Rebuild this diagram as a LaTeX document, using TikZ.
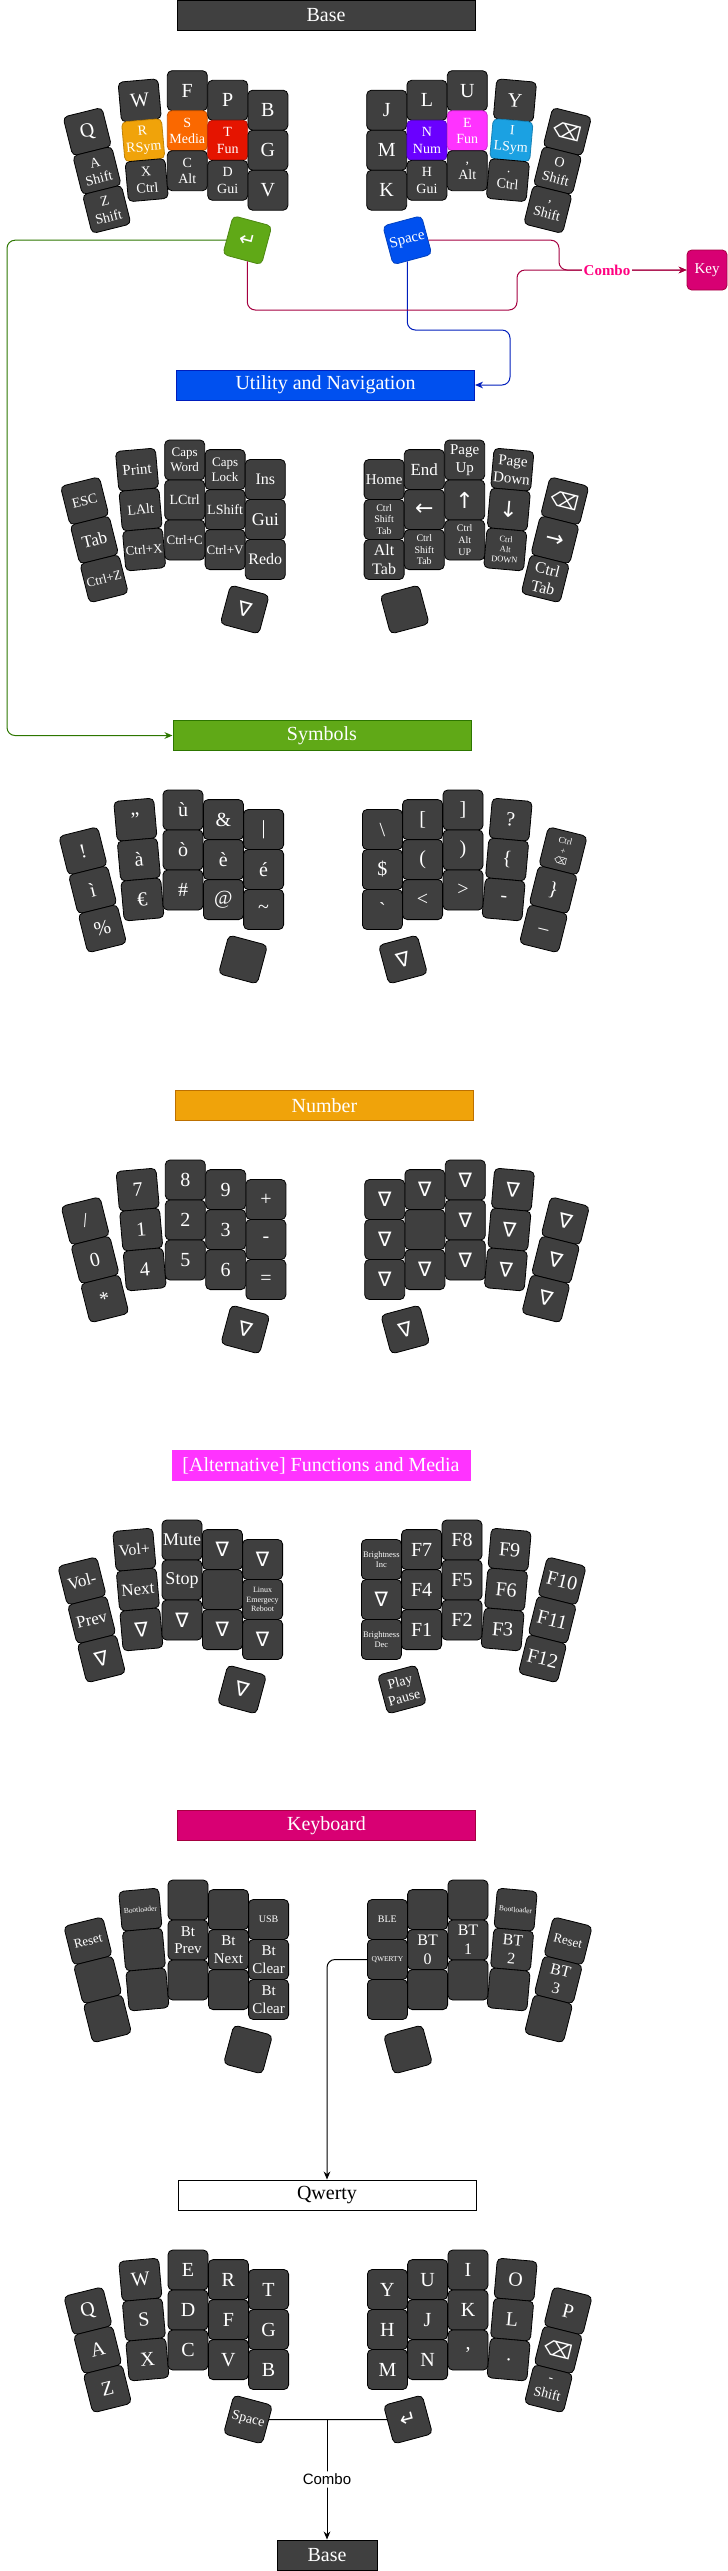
\documentclass[tikz,border=0pt]{standalone}
\usepackage{fontspec}
\setmainfont{Liberation Serif}
\newfontfamily\symf{DejaVu Sans}
\newfontfamily\sansf{Liberation Sans}
\usetikzlibrary{arrows.meta,calc}
\newcommand\fs[1]{\fontsize{\fpeval{0.75*#1}}{\fpeval{0.88*#1}}\selectfont}
\newcommand\bksp{{\symf ⌫}}
\newcommand\entk{{\symf ↵}}
\newcommand\nabk{{\symf ∇}}
\newcommand\arrk[1]{{\symf #1}}
\definecolor{kf}{HTML}{3F3F3F}
\definecolor{tGray}{HTML}{404040}
\definecolor{cOr}{HTML}{F0A30A}\definecolor{cOrS}{HTML}{BD7000}
\definecolor{cMed}{HTML}{FA6800}
\definecolor{cRed}{HTML}{E51400}
\definecolor{cPur}{HTML}{6A00FF}
\definecolor{cMag}{HTML}{FF33FF}
\definecolor{cBlu}{HTML}{1BA1E2}
\definecolor{cCob}{HTML}{0050EF}\definecolor{cCobS}{HTML}{001DBC}
\definecolor{cGrn}{HTML}{60A917}\definecolor{cGrnS}{HTML}{2D7600}
\definecolor{cPink}{HTML}{D80073}\definecolor{cPinkS}{HTML}{A50040}
\definecolor{cLbl}{HTML}{FF0080}
\tikzset{
  kcap/.style={draw=black, fill=kf, rounded corners=3.5pt, minimum width=30pt, minimum height=30pt,
    inner sep=0pt, text=white, align=center, font=\fs{20}, line width=0.6pt},
  fz/.style={font=\fs{#1}},
  ck/.style={fill=#1, draw=#1!80!black},
  title/.style={minimum width=223.5pt, minimum height=22.5pt, inner sep=0pt, font=\fs{20}, text=white, line width=0.75pt},
  arr/.style={line width=0.75pt, rounded corners=6pt, -{Stealth[length=6pt,width=5pt]}},
  L1a/.style={shift={(-100,41)},rotate=14},  L1b/.style={shift={(-90.3,79.8)},rotate=14}, L1c/.style={shift={(-80.6,118.6)},rotate=14},
  L2a/.style={shift={(-47.6,9.7)},rotate=5}, L2b/.style={shift={(-44.1,49.5)},rotate=5},  L2c/.style={shift={(-40.6,89.4)},rotate=5},
  L3a/.style={shift={(0,0)}},    L3b/.style={shift={(0,40)}},    L3c/.style={shift={(0,80)}},
  L4a/.style={shift={(40.4,9.6)}}, L4b/.style={shift={(40.4,49.6)}}, L4c/.style={shift={(40.4,89.6)}},
  L5a/.style={shift={(80.6,19.5)}}, L5b/.style={shift={(80.6,59.5)}}, L5c/.style={shift={(80.6,99.5)}},
  LT/.style={shift={(60,149.5)},rotate=-15},
  R5a/.style={shift={(199.4,19.5)}}, R5b/.style={shift={(199.4,59.5)}}, R5c/.style={shift={(199.4,99.5)}},
  R4a/.style={shift={(239.6,9.6)}}, R4b/.style={shift={(239.6,49.6)}}, R4c/.style={shift={(239.6,89.6)}},
  R3a/.style={shift={(280,0)}},   R3b/.style={shift={(280,40)}},   R3c/.style={shift={(280,80)}},
  R2a/.style={shift={(327.6,9.7)},rotate=-5}, R2b/.style={shift={(324.1,49.5)},rotate=-5}, R2c/.style={shift={(320.6,89.4)},rotate=-5},
  R1a/.style={shift={(380,41)},rotate=-14},  R1b/.style={shift={(370.3,79.8)},rotate=-14}, R1c/.style={shift={(360.6,118.6)},rotate=-14},
  RT/.style={shift={(220,149.5)},rotate=15}
}
\def\lp{b}
\newcommand\K[3][]{\node[kcap,#2,#1] (\lp#2) at (O) {#3};}
\begin{document}
\begin{tikzpicture}[x=0.75pt,y=-0.75pt]
\useasboundingbox (0,0) rectangle (728,2571);

% ---------- titles ----------
\node[title,fill=tGray,draw=black] (tBase) at (326,15) {Base};
\node[title,fill=cCob,draw=cCobS] (tUtil) at (325.5,385) {Utility and Navigation};
\node[title,fill=cGrn,draw=cGrnS] (tSym) at (322,735.5) {Symbols};
\node[title,fill=cOr,draw=cOrS] (tNum) at (324.5,1105.5) {Number};
\node[title,fill=cMag,draw=cMag] (tFun) at (321,1465.5) {[Alternative] Functions and Media};
\node[title,fill=cPink,draw=cPinkS] (tKbd) at (326.5,1825.5) {Keyboard};
\node[title,fill=white,draw=black,text=black] (tQw) at (327,2195) {Qwerty};
\node[title,fill=tGray,draw=black,minimum width=75pt] (tBase2) at (327,2555) {Base};

% ---------- Base ----------
\def\lp{b}
\coordinate (O) at (187.3,90.7);
\K{L1a}{Q} \K[fz=14]{L1b}{A\\Shift} \K[fz=14]{L1c}{Z\\Shift}
\K{L2a}{W} \K[fz=14,ck=cOr]{L2b}{R\\RSym} \K[fz=14]{L2c}{X\\Ctrl}
\K{L3a}{F} \K[fz=14,ck=cMed]{L3b}{S\\Media} \K[fz=14]{L3c}{C\\Alt}
\K{L4a}{P} \K[fz=14,ck=cRed]{L4b}{T\\Fun} \K[fz=14]{L4c}{D\\Gui}
\K{L5a}{B} \K{L5b}{G} \K{L5c}{V}
\K[ck=cGrn]{LT}{\entk}
\K{R5a}{J} \K{R5b}{M} \K{R5c}{K}
\K{R4a}{L} \K[fz=14,ck=cPur]{R4b}{N\\Num} \K[fz=14]{R4c}{H\\Gui}
\K{R3a}{U} \K[fz=14,ck=cMag]{R3b}{E\\Fun} \K[fz=14]{R3c}{,\\Alt}
\K{R2a}{Y} \K[fz=14,ck=cBlu]{R2b}{I\\LSym} \K[fz=14]{R2c}{.\\Ctrl}
\K{R1a}{\bksp} \K[fz=14]{R1b}{O\\Shift} \K[fz=14]{R1c}{,\\Shift}
\K[fz=15,ck=cCob]{RT}{Space}
\node[kcap,fill=cPink,draw=cPinkS,fz=15] (keyN) at (707,270) {Key};

% ---------- Utility ----------
\def\lp{u}
\coordinate (O) at (184.7,460);
\K[fz=14]{L1a}{ESC} \K[fz=17]{L1b}{Tab} \K[fz=13]{L1c}{Ctrl+Z}
\K[fz=15]{L2a}{Print} \K[fz=14]{L2b}{LAlt} \K[fz=13]{L2c}{Ctrl+X}
\K[fz=13]{L3a}{Caps\\Word} \K[fz=14]{L3b}{LCtrl} \K[fz=13]{L3c}{Ctrl+C}
\K[fz=13]{L4a}{Caps\\Lock} \K[fz=14]{L4b}{LShift} \K[fz=13]{L4c}{Ctrl+V}
\K[fz=16]{L5a}{Ins} \K[fz=18]{L5b}{Gui} \K[fz=16]{L5c}{Redo}
\K{LT}{\nabk}
\K[fz=15]{R5a}{Home} \K[fz=10]{R5b}{Ctrl\\Shift\\Tab} \K[fz=16]{R5c}{Alt\\Tab}
\K[fz=17]{R4a}{End} \K[fz=22]{R4b}{\arrk{←}} \K[fz=10]{R4c}{Ctrl\\Shift\\Tab}
\K[fz=15]{R3a}{Page\\Up} \K[fz=22]{R3b}{\arrk{↑}} \K[fz=10]{R3c}{Ctrl\\Alt\\UP}
\K[fz=15]{R2a}{Page\\Down} \K[fz=22]{R2b}{\arrk{↓}} \K[fz=8.5]{R2c}{Ctrl\\Alt\\DOWN}
\K{R1a}{\bksp} \K[fz=22]{R1b}{\arrk{→}} \K[fz=16]{R1c}{Ctrl\\Tab}
\K{RT}{}

% ---------- Symbols ----------
\def\lp{s}
\coordinate (O) at (183,810);
\K{L1a}{!} \K{L1b}{ì} \K{L1c}{\%}
\K{L2a}{"} \K{L2b}{à} \K{L2c}{€}
\K{L3a}{ù} \K{L3b}{ò} \K{L3c}{\#}
\K{L4a}{\&} \K{L4b}{è} \K{L4c}{@}
\K{L5a}{|} \K{L5b}{é} \K{L5c}{\textasciitilde}
\K{LT}{}
\K{R5a}{\textbackslash} \K{R5b}{\$} \K{R5c}{\textasciigrave}
\K{R4a}{[} \K{R4b}{(} \K{R4c}{<}
\K{R3a}{]} \K{R3b}{)} \K{R3c}{>}
\K{R2a}{?} \K{R2b}{\{} \K{R2c}{-}
\K[fz=9]{R1a}{Ctrl\\+\\\bksp} \K{R1b}{\}} \K{R1c}{\_}
\K{RT}{\nabk}

% ---------- Number ----------
\def\lp{n}
\coordinate (O) at (185.3,1180);
\K{L1a}{/} \K{L1b}{0} \K{L1c}{*}
\K{L2a}{7} \K{L2b}{1} \K{L2c}{4}
\K{L3a}{8} \K{L3b}{2} \K{L3c}{5}
\K{L4a}{9} \K{L4b}{3} \K{L4c}{6}
\K{L5a}{+} \K{L5b}{-} \K{L5c}{=}
\K{LT}{\nabk}
\K{R5a}{\nabk} \K{R5b}{\nabk} \K{R5c}{\nabk}
\K{R4a}{\nabk} \K{R4b}{} \K{R4c}{\nabk}
\K{R3a}{\nabk} \K{R3b}{\nabk} \K{R3c}{\nabk}
\K{R2a}{\nabk} \K{R2b}{\nabk} \K{R2c}{\nabk}
\K{R1a}{\nabk} \K{R1b}{\nabk} \K{R1c}{\nabk}
\K{RT}{\nabk}

% ---------- Functions ----------
\def\lp{f}
\coordinate (O) at (182,1540);
\K[fz=17]{L1a}{Vol-} \K[fz=17]{L1b}{Prev} \K{L1c}{\nabk}
\K[fz=16]{L2a}{Vol+} \K[fz=17]{L2b}{Next} \K{L2c}{\nabk}
\K[fz=18]{L3a}{Mute} \K[fz=18]{L3b}{Stop} \K{L3c}{\nabk}
\K{L4a}{\nabk} \K{L4b}{} \K{L4c}{\nabk}
\K{L5a}{\nabk} \K[fz=8]{L5b}{Linux\\Emergecy\\Reboot} \K{L5c}{\nabk}
\K{LT}{\nabk}
\K[fz=8.5]{R5a}{Brightness\\Inc} \K{R5b}{\nabk} \K[fz=8.5]{R5c}{Brightness\\Dec}
\K{R4a}{F7} \K{R4b}{F4} \K{R4c}{F1}
\K{R3a}{F8} \K{R3b}{F5} \K{R3c}{F2}
\K{R2a}{F9} \K{R2b}{F6} \K{R2c}{F3}
\K{R1a}{F10} \K{R1b}{F11} \K{R1c}{F12}
\K[fz=14]{RT}{Play\\Pause}

% ---------- Keyboard ----------
\def\lp{k}
\coordinate (O) at (188,1900);
\K[fz=13]{L1a}{Reset} \K{L1b}{} \K{L1c}{}
\K[fz=7.5]{L2a}{Bootloader} \K{L2b}{} \K{L2c}{}
\K{L3a}{} \K[fz=15]{L3b}{Bt\\Prev} \K{L3c}{}
\K{L4a}{} \K[fz=15]{L4b}{Bt\\Next} \K{L4c}{}
\K[fz=10]{L5a}{USB} \K[fz=15]{L5b}{Bt\\Clear} \K[fz=15]{L5c}{Bt\\Clear}
\K{LT}{}
\K[fz=10]{R5a}{BLE} \K[fz=7.5]{R5b}{QWERTY} \K{R5c}{}
\K{R4a}{} \K[fz=16]{R4b}{BT\\0} \K{R4c}{}
\K{R3a}{} \K[fz=16]{R3b}{BT\\1} \K{R3c}{}
\K[fz=7.5]{R2a}{Bootloader} \K[fz=16]{R2b}{BT\\2} \K{R2c}{}
\K[fz=13]{R1a}{Reset} \K[fz=16]{R1b}{BT\\3} \K{R1c}{}
\K{RT}{}

% ---------- Qwerty ----------
\def\lp{q}
\coordinate (O) at (188,2270);
\K{L1a}{Q} \K{L1b}{A} \K{L1c}{Z}
\K{L2a}{W} \K{L2b}{S} \K{L2c}{X}
\K{L3a}{E} \K{L3b}{D} \K{L3c}{C}
\K{L4a}{R} \K{L4b}{F} \K{L4c}{V}
\K{L5a}{T} \K{L5b}{G} \K{L5c}{B}
\K[fz=14]{LT}{Space}
\K{R5a}{Y} \K{R5b}{H} \K{R5c}{M}
\K{R4a}{U} \K{R4b}{J} \K{R4c}{N}
\K{R3a}{I} \K{R3b}{K} \K{R3c}{,}
\K{R2a}{O} \K{R2b}{L} \K{R2c}{.}
\K{R1a}{P} \K{R1b}{\bksp} \K[fz=14]{R1c}{-\\Shift}
\K{RT}{\entk}

% ---------- connectors ----------
\coordinate (gx) at (7,0);
\coordinate (bturn) at (510,330);
\coordinate (m1) at (559,0);
\coordinate (m2) at (517,310);
\draw[arr,draw=cGrnS,fill=none] (bLT) -- (bLT -| gx) |- (tSym);
\draw[arr,draw=cCobS] (bRT) |- (bturn) |- (tUtil);
\draw[arr,draw=cPinkS] (bLT) |- (m2) |- (keyN);
\draw[arr,draw=cPinkS] (bRT) -- (bRT -| m1) |- (keyN);
\node[fill=white,text=cLbl,font=\bfseries\fs{15},inner sep=1pt] (comboA) at (607,270) {Combo};
\draw[arr,draw=black] (kR5b) -| (tQw);
\draw[line width=0.75pt] (qLT) -- (qRT);
\draw[arr,draw=black] (qLT -| tBase2) -- node[fill=white,font=\sansf\fs{15},inner sep=2pt] (comboB) {Combo} (tBase2);
\end{tikzpicture}
\end{document}
